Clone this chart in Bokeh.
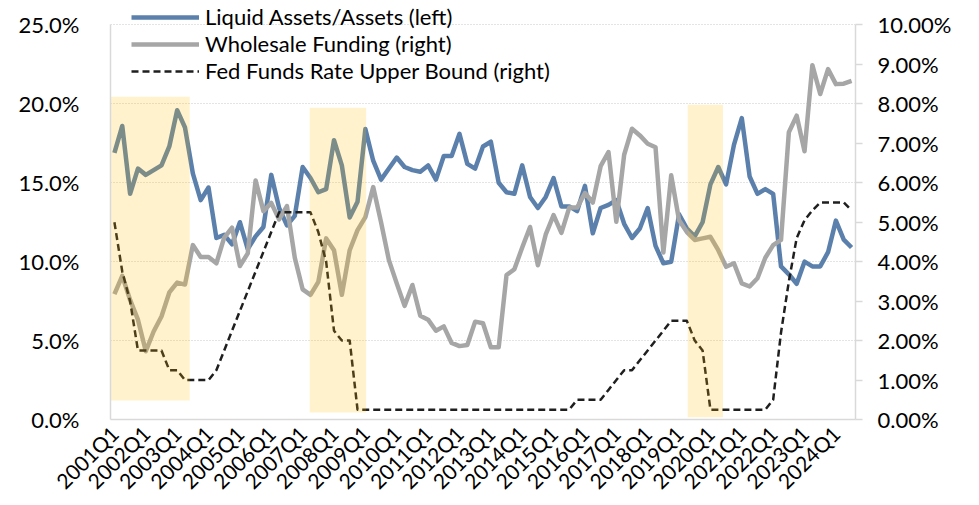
import math
from bokeh.plotting import figure
from bokeh.models import (Range1d, LinearAxis, FixedTicker, PrintfTickFormatter,
                          Legend, LegendItem, ColumnDataSource)
from bokeh.embed import file_html
from bokeh.resources import INLINE

# ---------------- data ----------------
quarters = [f"{y}Q{q}" for y in range(2001, 2025) for q in range(1, 5)][:95]

liquid_assets = [
    16.9, 18.6, 14.3, 15.9, 15.5, 15.8, 16.1, 17.3, 19.6, 18.5,
    15.6, 13.9, 14.7, 11.5, 11.7, 11.1, 12.5, 10.8, 11.6, 12.2,
    15.5, 13.4, 12.3, 12.9, 16.0, 15.3, 14.4, 14.6, 17.7, 16.1,
    12.8, 13.8, 18.4, 16.4, 15.2, 15.9, 16.6, 16.0, 15.8, 15.7,
    16.1, 15.2, 16.7, 16.7, 18.1, 16.2, 15.9, 17.3, 17.6, 15.0,
    14.4, 14.3, 16.1, 14.1, 13.4, 14.1, 15.3, 13.5, 13.5, 13.2,
    14.8, 11.8, 13.4, 13.6, 13.9, 12.4, 11.5, 12.1, 13.4, 11.0,
    9.9, 10.0, 13.0, 12.1, 11.6, 12.5, 14.9, 16.0, 14.9, 17.4,
    19.1, 15.4, 14.3, 14.6, 14.3, 9.7, 9.2, 8.6, 10.0, 9.7,
    9.7, 10.6, 12.6, 11.4, 10.9,
]

wholesale_funding = [
    3.18, 3.64, 3.03, 2.53, 1.73, 2.23, 2.61, 3.22, 3.47, 3.42,
    4.42, 4.12, 4.12, 3.96, 4.61, 4.86, 3.89, 4.21, 6.06, 5.28,
    5.49, 5.07, 5.41, 4.10, 3.30, 3.16, 3.49, 4.59, 4.29, 3.16,
    4.29, 4.80, 5.13, 5.89, 5.00, 4.04, 3.45, 2.88, 3.41, 2.63,
    2.53, 2.25, 2.36, 1.94, 1.86, 1.89, 2.48, 2.44, 1.83, 1.83,
    3.66, 3.81, 4.36, 4.88, 3.91, 4.69, 5.18, 4.73, 5.37, 5.37,
    5.74, 5.50, 6.42, 6.78, 5.01, 6.71, 7.37, 7.20, 6.99, 6.90,
    4.23, 6.19, 5.05, 4.75, 4.55, 4.59, 4.63, 4.29, 3.87, 3.96,
    3.45, 3.37, 3.58, 4.10, 4.42, 4.55, 7.28, 7.70, 6.80, 8.98,
    8.25, 8.88, 8.50, 8.51, 8.58,
]

fed_funds_upper = [
    5.00, 3.75, 3.00, 1.75, 1.75, 1.75, 1.75, 1.25, 1.25, 1.00,
    1.00, 1.00, 1.00, 1.25, 1.75, 2.25, 2.75, 3.25, 3.75, 4.25,
    4.75, 5.25, 5.25, 5.25, 5.25, 5.25, 4.75, 4.00, 2.25, 2.00,
    2.00, 0.25, 0.25, 0.25, 0.25, 0.25, 0.25, 0.25, 0.25, 0.25,
    0.25, 0.25, 0.25, 0.25, 0.25, 0.25, 0.25, 0.25, 0.25, 0.25,
    0.25, 0.25, 0.25, 0.25, 0.25, 0.25, 0.25, 0.25, 0.25, 0.50,
    0.50, 0.50, 0.50, 0.75, 1.00, 1.25, 1.25, 1.50, 1.75, 2.00,
    2.25, 2.50, 2.50, 2.50, 2.00, 1.75, 0.25, 0.25, 0.25, 0.25,
    0.25, 0.25, 0.25, 0.25, 0.50, 2.20, 3.50, 4.60, 5.05, 5.30,
    5.50, 5.50, 5.50, 5.50, 5.30,
]

# shaded periods (x in quarter index, y on left axis in %)
shade_start = [-0.5, 24.9, 73.1]
shade_end = [9.6, 32.1, 77.6]
shade_top = [20.45, 19.75, 19.95]
shade_bottom = [1.2, 0.45, 0.15]

left_ticks = [0, 5, 10, 15, 20, 25]
right_ticks = [0, 1, 2, 3, 4, 5, 6, 7, 8, 9, 10]
x_tick_index = list(range(0, 95, 4))

series_labels = ["Liquid Assets/Assets (left)", "Wholesale Funding (right)",
                 "Fed Funds Rate Upper Bound (right)"]

# ---------------- figure ----------------
FONT = "Lato"
LEFT_MAX, RIGHT_MAX = 25, 10
FRAME_H, TOP_GAP = 420, 24.5          # frame runs to the top edge; axes stop at 25% / 10%
head = FRAME_H / (FRAME_H - TOP_GAP)  # headroom factor so the legend stays inside the frame

idx = list(range(len(quarters)))
src = ColumnDataSource(dict(x=idx, liq=liquid_assets, whs=wholesale_funding, ffr=fed_funds_upper))

p = figure(width=979, height=505, output_backend="svg", toolbar_location=None,
           x_range=Range1d(-0.5, len(quarters) - 0.5),
           y_range=Range1d(0, LEFT_MAX * head),
           min_border_left=110, min_border_right=124, min_border_top=0,
           min_border_bottom=85)
p.outline_line_color = None
p.background_fill_color = "white"
p.extra_y_ranges = {"right": Range1d(0, RIGHT_MAX * head)}

# grid
p.xgrid.visible = False
p.ygrid.ticker = FixedTicker(ticks=left_ticks)
p.ygrid.grid_line_color = "#C8C8C8"
p.ygrid.grid_line_dash = "1 2"
p.ygrid.grid_line_width = 1

# left axis
ya = p.yaxis[0]
ya.ticker = FixedTicker(ticks=left_ticks)
ya.bounds = (0, LEFT_MAX)
ya.formatter = PrintfTickFormatter(format="%.1f%%")
ya.axis_line_color = "#D9D9D9"
ya.axis_line_width = 1.5
ya.major_tick_line_color = None
ya.minor_tick_line_color = None
ya.major_label_standoff = 25
ya.major_label_text_font = FONT
ya.major_label_text_font_size = "22px"
ya.major_label_text_color = "black"

# right axis
ra = LinearAxis(y_range_name="right", ticker=FixedTicker(ticks=right_ticks),
                formatter=PrintfTickFormatter(format="%.2f%%"), bounds=(0, RIGHT_MAX))
ra.axis_line_color = "#D9D9D9"
ra.axis_line_width = 1.5
ra.major_tick_line_color = "#D9D9D9"
ra.major_tick_line_width = 1.5
ra.major_tick_out = 7
ra.major_tick_in = 0
ra.minor_tick_line_color = None
ra.major_label_standoff = 15
ra.major_label_text_font = FONT
ra.major_label_text_font_size = "22px"
ra.major_label_text_color = "black"
p.add_layout(ra, "right")

# bottom axis
xa = p.xaxis[0]
xa.ticker = FixedTicker(ticks=x_tick_index)
xa.major_label_overrides = {i: quarters[i] for i in x_tick_index}
xa.major_label_orientation = math.pi / 4
xa.axis_line_color = "#D9D9D9"
xa.axis_line_width = 1.5
xa.major_tick_line_color = None
xa.minor_tick_line_color = None
xa.major_label_standoff = 4
xa.major_label_text_font = FONT
xa.major_label_text_font_size = "21px"
xa.major_label_text_color = "black"

# lines
r_liq = p.line("x", "liq", source=src, line_color="#5B80AC", line_width=4.5,
               line_join="round")
r_whs = p.line("x", "whs", source=src, line_color="#A6A6A6", line_width=4.5,
               line_join="round", y_range_name="right")
r_ffr = p.line("x", "ffr", source=src, line_color="#1F1F1F", line_width=2.5,
               line_dash="7 4", line_join="round", y_range_name="right")

# shaded periods, semi-transparent on top of the lines
p.quad(left=shade_start, right=shade_end, top=shade_top, bottom=shade_bottom,
       fill_color="#FFC000", fill_alpha=0.2, line_color=None)

legend = Legend(items=[LegendItem(label=series_labels[0], renderers=[r_liq]),
                       LegendItem(label=series_labels[1], renderers=[r_whs]),
                       LegendItem(label=series_labels[2], renderers=[r_ffr])],
                location=(21, 335), orientation="vertical")
legend.label_text_font = FONT
legend.label_text_font_size = "22px"
legend.label_text_color = "black"
legend.glyph_width = 68
legend.glyph_height = 24
legend.label_height = 24
legend.spacing = 0
legend.padding = 0
legend.margin = 0
legend.label_standoff = 6
legend.border_line_color = None
legend.background_fill_alpha = 0
p.add_layout(legend)

open("out.html", "w").write(file_html(p, INLINE))
